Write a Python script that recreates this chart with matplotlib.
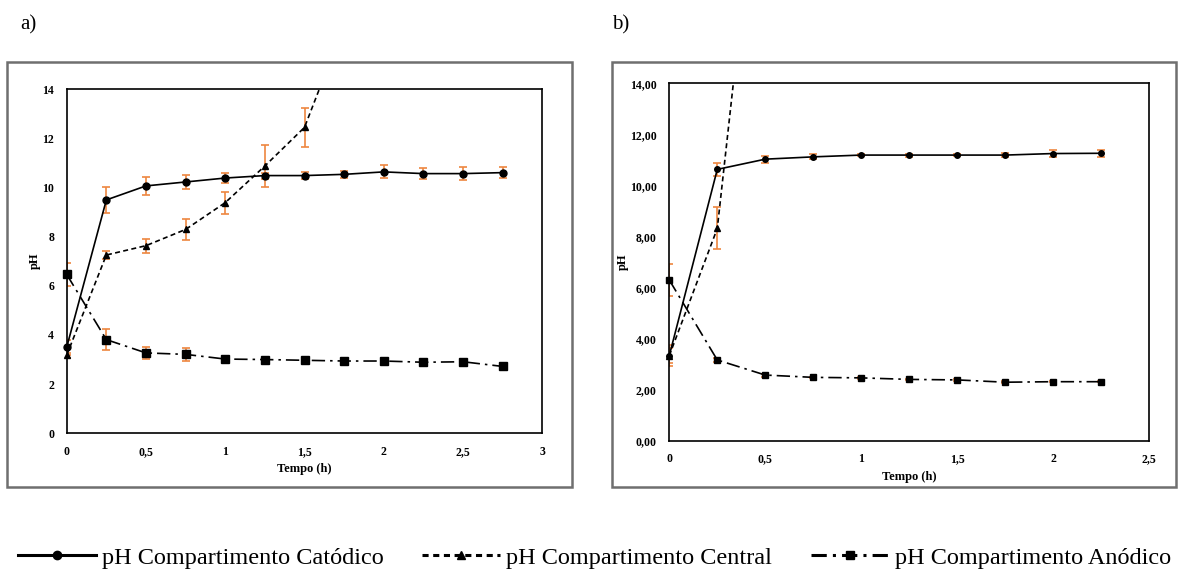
import matplotlib
matplotlib.use("Agg")
import matplotlib.pyplot as plt
from matplotlib.lines import Line2D
from matplotlib.patches import Rectangle
from matplotlib.ticker import FuncFormatter, MultipleLocator

plt.rcParams['font.family'] = ['Liberation Serif', 'DejaVu Serif']

# Painel a)
t_a = [0, 0.25, 0.5, 0.75, 1, 1.25, 1.5, 1.75, 2, 2.25, 2.5, 2.75]
cat_a = [3.50, 9.49, 10.06, 10.22, 10.38, 10.48, 10.48, 10.53, 10.63, 10.56, 10.56, 10.60]
cat_a_err = [0.30, 0.54, 0.37, 0.28, 0.22, 0.12, 0.15, 0.14, 0.26, 0.21, 0.26, 0.21]
t_cen_a = [0, 0.25, 0.5, 0.75, 1, 1.25, 1.5, 1.75]
cen_a = [3.18, 7.25, 7.63, 8.29, 9.38, 10.87, 12.44, 16.6]
cen_a_err = [0.10, 0.17, 0.28, 0.44, 0.45, 0.85, 0.79, 0]
an_a = [6.46, 3.81, 3.27, 3.21, 3.02, 3.00, 2.97, 2.94, 2.94, 2.89, 2.91, 2.72]
an_a_err = [0.47, 0.43, 0.26, 0.25, 0.10, 0.08, 0.04, 0.04, 0.04, 0.04, 0.04, 0.04]

# Painel b)
t_b = [0, 0.25, 0.5, 0.75, 1, 1.25, 1.5, 1.75, 2, 2.25]
cat_b = [3.34, 10.63, 11.03, 11.12, 11.19, 11.19, 11.19, 11.19, 11.25, 11.26]
cat_b_err = [0.42, 0.24, 0.14, 0.10, 0.05, 0.06, 0.05, 0.08, 0.14, 0.13]
t_cen_b = [0, 0.25, 0.5]
cen_b = [3.34, 8.32, 25.3]
cen_b_err = [0.30, 0.82, 0]
an_b = [6.30, 3.17, 2.58, 2.49, 2.47, 2.41, 2.39, 2.30, 2.32, 2.32]
an_b_err = [0.62, 0.06, 0.06, 0.03, 0.03, 0.03, 0.03, 0.03, 0.03, 0.03]

labels = ['pH Compartimento Catódico', 'pH Compartimento Central', 'pH Compartimento Anódico']
orange = '#EE8640'
dash_cen = (0, (3, 2))
dash_an = (0, (8, 3, 1.5, 3))


def serie(ax, t, y, err, ls, marker, ms):
    ax.errorbar(t, y, yerr=err, fmt='none', ecolor=orange, elinewidth=1.2,
                capsize=3, capthick=1.2, zorder=2)
    ax.plot(t, y, color='black', lw=1.2, ls=ls, zorder=3)
    # marcadores visiveis (dentro da escala) sem recorte nas bordas
    tv = [ti for ti, yi in zip(t, y) if yi <= 14]
    yv = [yi for yi in y if yi <= 14]
    ax.plot(tv, yv, ls='none', marker=marker, ms=ms, color='black', clip_on=False, zorder=4)


def desenhar(ax, t, cat, cat_err, tc, cen, cen_err, an, an_err, ms):
    serie(ax, t, an, an_err, dash_an, 's', ms + 0.5)
    serie(ax, tc, cen, cen_err, dash_cen, '^', ms)
    serie(ax, t, cat, cat_err, '-', 'o', ms)
    ax.set_ylim(0, 14)
    ax.yaxis.set_major_locator(MultipleLocator(2))
    ax.xaxis.set_major_locator(MultipleLocator(0.5))
    ax.tick_params(length=0, labelsize=8.5, pad=9)
    for s in ax.spines.values():
        s.set_linewidth(1.2)
    ax.set_xlabel('Tempo (h)', fontsize=9, fontweight='bold', labelpad=4)
    ax.set_ylabel('pH', fontsize=9, fontweight='bold', labelpad=1)


fig = plt.figure(figsize=(11.89, 5.84), dpi=100)

ax_a = fig.add_axes([0.0561, 0.2580, 0.4000, 0.5896])
desenhar(ax_a, t_a, cat_a, cat_a_err, t_cen_a, cen_a, cen_a_err, an_a, an_a_err, 5)
ax_a.set_xlim(0, 3)
ax_a.xaxis.set_major_formatter(FuncFormatter(lambda v, p: f"{v:g}".replace('.', ',')))
ax_a.yaxis.set_major_formatter(FuncFormatter(lambda v, p: f"{v:g}"))

ax_b = fig.add_axes([0.5629, 0.2449, 0.4037, 0.6125])
desenhar(ax_b, t_b, cat_b, cat_b_err, t_cen_b, cen_b, cen_b_err, an_b, an_b_err, 4)
ax_b.set_xlim(0, 2.5)
ax_b.xaxis.set_major_formatter(FuncFormatter(lambda v, p: f"{v:g}".replace('.', ',')))
ax_b.yaxis.set_major_formatter(FuncFormatter(lambda v, p: f"{v:.2f}".replace('.', ',')))

for ax in (ax_a, ax_b):
    for lab in ax.get_xticklabels() + ax.get_yticklabels():
        lab.set_fontweight('bold')

# Molduras cinzentas
for x0 in (0.0059, 0.5145):
    fig.add_artist(Rectangle((x0, 0.1661), 0.4749, 0.7277, transform=fig.transFigure,
                             fill=False, edgecolor='#6f6f6f', lw=1.8))

fig.text(0.017, 0.958, 'a)', fontsize=15, va='center')
fig.text(0.515, 0.958, 'b)', fontsize=15, va='center')

handles = [
    Line2D([], [], color='black', lw=2.2, ls='-', marker='o', ms=6),
    Line2D([], [], color='black', lw=2.2, ls=(0, (2, 1.5)), marker='^', ms=6),
    Line2D([], [], color='black', lw=2.2, ls=(0, (5, 2, 1, 2)), marker='s', ms=6),
]
fig.legend(handles, labels, loc='center', bbox_to_anchor=(0.5, 0.045), ncol=3,
           frameon=False, fontsize=17.5, handlelength=3.2, handletextpad=0.25,
           columnspacing=1.6)

fig.savefig('out.png', dpi=100)
